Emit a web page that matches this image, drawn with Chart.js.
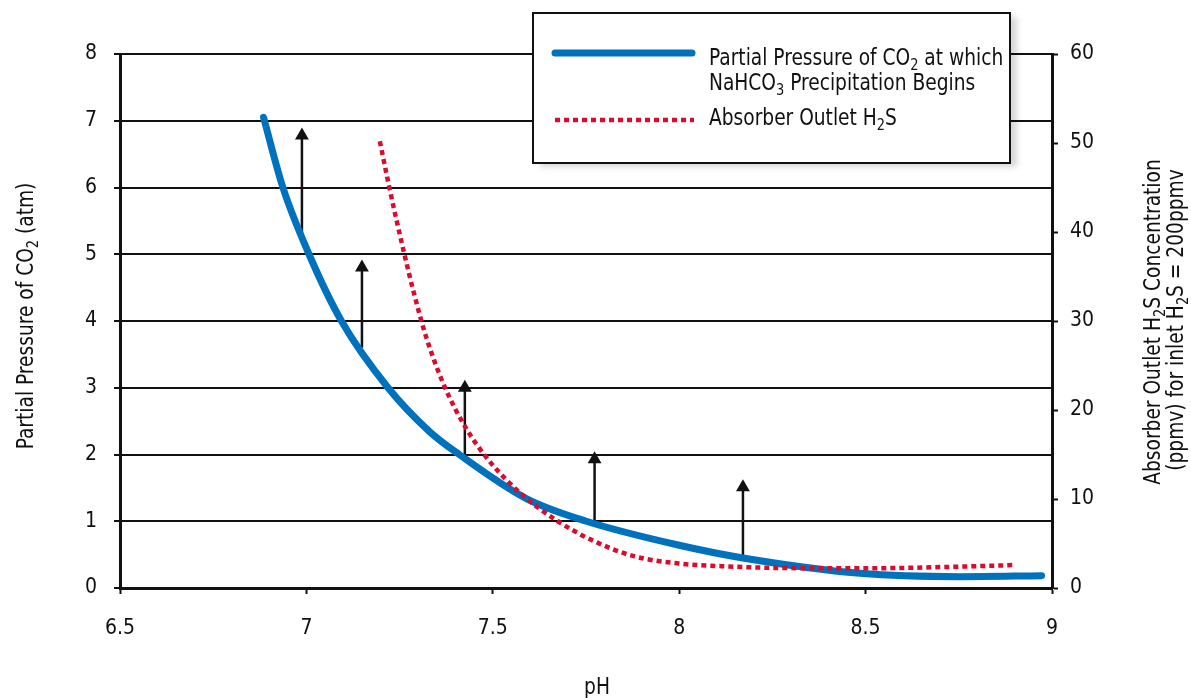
<!DOCTYPE html>
<html lang="en">
<head>
<meta charset="UTF-8">
<title>NaHCO3 precipitation vs pH</title>
<script src="https://cdn.jsdelivr.net/npm/chart.js@4"></script>
<style>
  html, body { margin: 0; padding: 0; background: #fff; }
  #wrap { width: 1191px; height: 698px; }
</style>
</head>
<body>
<div id="wrap"><canvas id="phChart" width="1191" height="698"></canvas></div>
<script>
const FONT = "'Liberation Sans Narrow', 'DejaVu Sans Condensed', 'Arial Narrow', sans-serif";

// CO2 partial pressure (atm) at which NaHCO3 starts to precipitate
const co2Ph       = [6.885, 6.937, 7.007, 7.094, 7.219, 7.331, 7.41, 7.59, 7.751, 8.0, 8.171, 8.485, 8.754, 8.972];
const co2Pressure = [7.05, 6.0, 5.0, 4.0, 3.0, 2.34, 2.0, 1.34, 1.0, 0.64, 0.45, 0.22, 0.17, 0.185];

// absorber outlet H2S (ppmv), right axis
const h2sPh   = [7.197, 7.221, 7.243, 7.264, 7.288, 7.322, 7.371, 7.429, 7.492, 7.581, 7.671, 7.76, 7.876, 8.0, 8.145, 8.27, 8.485, 8.754, 8.9];
const h2sPpmv = [50.2, 45.3, 41.1, 37.3, 33.2, 28.1, 22.6, 17.9, 14.2, 10.4, 7.6, 5.5, 3.6, 2.75, 2.4, 2.25, 2.21, 2.4, 2.58];

// upward arrows: pH, start on the curve, arrow head
const arrowPh   = [6.988, 7.149, 7.425, 7.773, 8.171];
const arrowFrom = [5.3, 3.6, 1.95, 0.97, 0.46];
const arrowTo   = [6.78, 4.80, 3.0, 1.93, 1.51];

const xTicks     = [6.5, 7, 7.5, 8, 8.5, 9];
const leftTicks  = [0, 1, 2, 3, 4, 5, 6, 7, 8];
const rightTicks = [0, 10, 20, 30, 40, 50, 60];

const BLUE = '#0071bc';
const RED = '#dc0a2d';
const TEXT_SQUEEZE = 0.9;

// draw text where segments between underscores are subscripts
function drawRich(ctx, str, x, y, size, align) {
  const parts = str.split('_');
  const subSize = Math.round(size * 0.68);
  let w = 0;
  parts.forEach((t, i) => {
    ctx.font = (i % 2 ? subSize : size) + 'px ' + FONT;
    w += ctx.measureText(t).width;
  });
  const x0 = align === 'center' ? x - w * TEXT_SQUEEZE / 2 : x;
  ctx.save();
  ctx.translate(x0, y);
  ctx.scale(TEXT_SQUEEZE, 1);
  ctx.textAlign = 'left';
  ctx.textBaseline = 'alphabetic';
  let cx = 0;
  parts.forEach((t, i) => {
    const sub = i % 2 === 1;
    ctx.font = (sub ? subSize : size) + 'px ' + FONT;
    ctx.fillText(t, cx, sub ? size * 0.22 : 0);
    cx += ctx.measureText(t).width;
  });
  ctx.restore();
}

function drawRotated(ctx, str, x, y, size) {
  ctx.save();
  ctx.translate(x, y);
  ctx.rotate(-Math.PI / 2);
  drawRich(ctx, str, 0, 0, size, 'center');
  ctx.restore();
}

const annotations = {
  id: 'annotations',
  afterDraw(chart) {
    const ctx = chart.ctx;
    ctx.save();
    ctx.fillStyle = '#111';

    // axis titles
    drawRotated(ctx, 'Partial Pressure of CO_2_ (atm)', 33, 316, 23);
    drawRotated(ctx, 'Absorber Outlet H_2_S Concentration', 1160, 322, 23);
    drawRotated(ctx, '(ppmv) for inlet H_2_S = 200ppmv', 1183, 320, 23);
    drawRich(ctx, 'pH', 597, 694, 23, 'center');

    // legend box
    ctx.save();
    ctx.shadowColor = 'rgba(0,0,0,0.16)';
    ctx.shadowBlur = 6;
    ctx.shadowOffsetX = 7;
    ctx.shadowOffsetY = 4;
    ctx.fillStyle = '#fff';
    ctx.fillRect(533, 13, 477, 150);
    ctx.restore();
    ctx.strokeStyle = '#111';
    ctx.lineWidth = 2;
    ctx.strokeRect(533, 13, 477, 150);

    ctx.lineWidth = 7;
    ctx.lineCap = 'round';
    ctx.strokeStyle = BLUE;
    ctx.beginPath();
    ctx.moveTo(555, 53);
    ctx.lineTo(692, 53);
    ctx.stroke();

    ctx.lineWidth = 4.5;
    ctx.lineCap = 'butt';
    ctx.setLineDash([5, 4]);
    ctx.strokeStyle = RED;
    ctx.beginPath();
    ctx.moveTo(555, 120);
    ctx.lineTo(694, 120);
    ctx.stroke();
    ctx.setLineDash([]);

    ctx.fillStyle = '#111';
    drawRich(ctx, 'Partial Pressure of CO_2_ at which', 709, 65, 23, 'left');
    drawRich(ctx, 'NaHCO_3_ Precipitation Begins', 709, 90, 23, 'left');
    drawRich(ctx, 'Absorber Outlet H_2_S', 709, 125, 23, 'left');
    ctx.restore();
  }
};

const arrowSets = arrowPh.map((ph, i) => ({
  data: [{ x: ph, y: arrowFrom[i] }, { x: ph, y: arrowTo[i] }],
  yAxisID: 'y',
  showLine: true,
  borderColor: '#111',
  borderWidth: 2.5,
  backgroundColor: '#111',
  pointStyle: 'triangle',
  pointRadius: [0, 8],
  pointBorderWidth: 0,
  pointHoverRadius: 0,
  order: 2
}));

new Chart(document.getElementById('phChart'), {
  type: 'scatter',
  data: {
    datasets: [
      {
        label: 'Absorber Outlet H2S',
        data: h2sPh.map((x, i) => ({ x, y: h2sPpmv[i] })),
        yAxisID: 'y2',
        showLine: true,
        borderColor: RED,
        borderWidth: 4.5,
        borderDash: [5, 4],
        cubicInterpolationMode: 'monotone',
        pointRadius: 0,
        order: 0
      },
      {
        label: 'Partial Pressure of CO2 at which NaHCO3 Precipitation Begins',
        data: co2Ph.map((x, i) => ({ x, y: co2Pressure[i] })),
        yAxisID: 'y',
        showLine: true,
        borderColor: BLUE,
        borderWidth: 7,
        borderCapStyle: 'round',
        cubicInterpolationMode: 'monotone',
        pointRadius: 0,
        order: 1
      },
      ...arrowSets
    ]
  },
  options: {
    responsive: false,
    devicePixelRatio: 1,
    animation: false,
    layout: { padding: { top: 54, left: 0, right: 0, bottom: 0 } },
    plugins: { legend: { display: false }, tooltip: { enabled: false } },
    scales: {
      x: {
        type: 'linear',
        min: 6.5,
        max: 9,
        afterBuildTicks: s => { s.ticks = xTicks.map(v => ({ value: v })); },
        afterFit: s => { s.height = 110; },
        grid: { drawOnChartArea: false, tickLength: 6, tickColor: '#111', tickWidth: 2 },
        border: { color: '#111', width: 3 },
        ticks: { padding: 22, color: '#111', font: { family: FONT, size: 21 }, callback: v => String(v) }
      },
      y: {
        position: 'left',
        min: 0,
        max: 8,
        afterBuildTicks: s => { s.ticks = leftTicks.map(v => ({ value: v })); },
        afterFit: s => { s.width = 120; },
        grid: { color: '#111', lineWidth: 2, tickLength: 6, tickColor: '#111', tickWidth: 2 },
        border: { color: '#111', width: 3 },
        ticks: { padding: 17, color: '#111', font: { family: FONT, size: 21 } }
      },
      y2: {
        position: 'right',
        min: 0,
        max: 60,
        afterBuildTicks: s => { s.ticks = rightTicks.map(v => ({ value: v })); },
        afterFit: s => { s.width = 139; },
        grid: { drawOnChartArea: false, tickLength: 6, tickColor: '#111', tickWidth: 2 },
        border: { color: '#111', width: 3 },
        ticks: { padding: 12, color: '#111', font: { family: FONT, size: 21 } }
      }
    }
  },
  plugins: [annotations]
});
</script>
</body>
</html>
